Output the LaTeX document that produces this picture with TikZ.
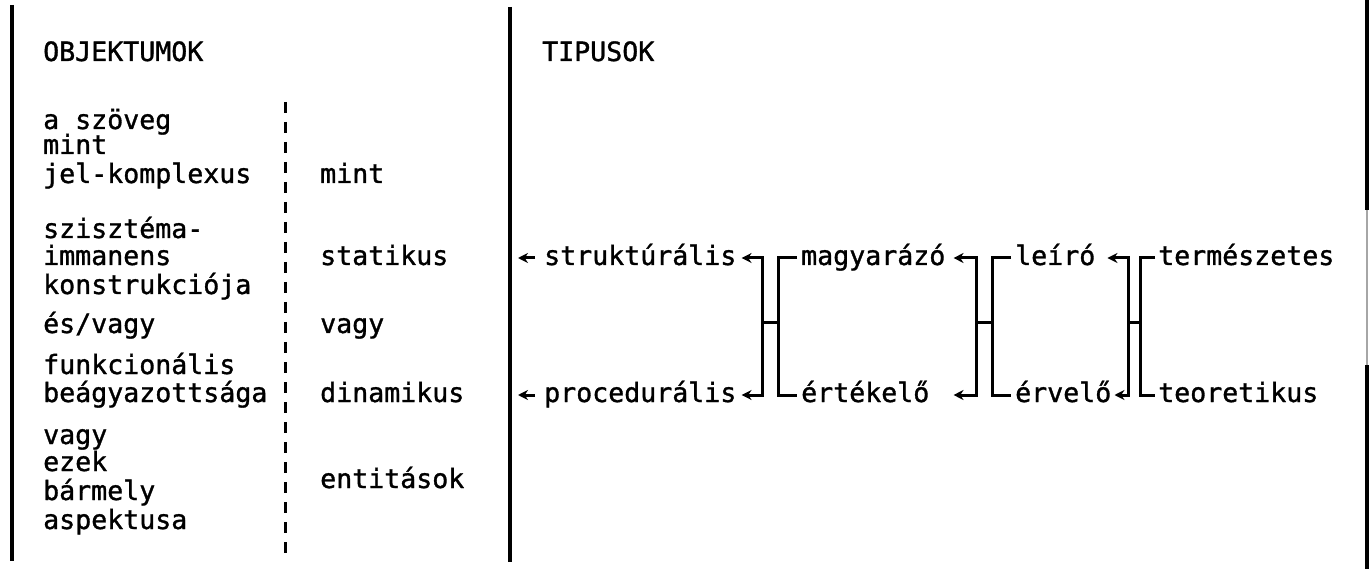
\documentclass[tikz,border=0pt]{standalone}
\usepackage{fontspec}
\newfontfamily\tw[FakeBold=1.2]{DejaVu Sans Mono}
\usetikzlibrary{arrows.meta,calc}
\begin{document}
\begin{tikzpicture}[x=1pt,y=-1pt,
  txt/.style={font=\tw\fontsize{26.6pt}{27.5pt}\selectfont, inner sep=0pt, anchor=base west},
  rule/.style={line width=3.4pt},
  brk/.style={line width=3pt},
  tipa/.style={-{Stealth[length=10pt,width=10pt]}},
  tipb/.style={{Stealth[length=10pt,width=10pt]}-{Stealth[length=10pt,width=10pt]}}]
\fill[white] (0,0) rectangle (1371,569);
\useasboundingbox (0,0) rectangle (1371,569);

% frame and column rules
\draw[rule] (12,5) -- (12,561);
\draw[rule] (510,7) -- (510,562);
\draw[rule] (1367,0) -- (1367,210);
\draw[line width=1.4pt, black!35] (1367,210) -- (1367,365);
\draw[rule] (1367,365) -- (1367,569);
\draw[line width=3pt, dash pattern=on 11pt off 9pt] (285,102) -- (285,557);

% headings
\node[txt] (hobj) at (43,61) {OBJEKTUMOK};
\node[txt] (htip) at (542,61) {TIPUSOK};

% first column
\node[txt] (l1) at (43,129) {a szöveg};
\node[txt] (l2) at (43,154) {mint};
\node[txt] (l3) at (43,183) {jel-komplexus};
\node[txt] (l4) at (43,238) {szisztéma-};
\node[txt] (l5) at (43,265) {immanens};
\node[txt] (l6) at (43,294) {konstrukciója};
\node[txt] (l7) at (43,333) {és/vagy};
\node[txt] (l8) at (43,374) {funkcionális};
\node[txt] (l9) at (43,402) {beágyazottsága};
\node[txt] (l10) at (43,444) {vagy};
\node[txt] (l11) at (43,471) {ezek};
\node[txt] (l12) at (43,500) {bármely};
\node[txt] (l13) at (43,529) {aspektusa};

% second column
\node[txt] (m1) at (320,183) {mint};
\node[txt] (m2) at (320,265) {statikus};
\node[txt] (m3) at (320,333) {vagy};
\node[txt] (m4) at (320,402) {dinamikus};
\node[txt] (m5) at (320,488) {entitások};

% types
\node[txt] (strukt) at (544,265) {struktúrális};
\node[txt] (proc)   at (544,402) {procedurális};
\node[txt] (magy)   at (801,265) {magyarázó};
\node[txt] (ertek)  at (801,402) {értékelő};
\node[txt] (leiro)  at (1015,265) {leíró};
\node[txt] (ervelo) at (1015,402) {érvelő};
\node[txt] (term)   at (1158,265) {természetes};
\node[txt] (teor)   at (1158,402) {teoretikus};

% free arrow ends next to the column rule
\coordinate (sa) at (518,258);
\coordinate (pa) at (518,395);
\draw[brk, tipa, shorten <=9pt] (strukt.west |- sa) -- (sa);
\draw[brk, tipa, shorten <=9pt] (proc.west |- pa) -- (pa);

% bracket joints: left bar, right bar
\coordinate (j1a) at (762,258); \coordinate (j1b) at (762,395);
\coordinate (k1a) at (778,258); \coordinate (k1b) at (778,395);
\coordinate (j2a) at (976,258); \coordinate (j2b) at (976,395);
\coordinate (k2a) at (992,258); \coordinate (k2b) at (992,395);
\coordinate (j3a) at (1128,258); \coordinate (j3b) at (1128,395);
\coordinate (k3a) at (1140,258); \coordinate (k3b) at (1140,395);

% struktúrális / procedurális  <-  magyarázó / értékelő
\draw[brk, tipb, shorten <=5pt, shorten >=5pt]
  (strukt.east |- j1a) -- (j1a) -- (j1b) -- (proc.east |- j1b);
\draw[brk] ($(j1a)!0.47!(j1b)$) -- ($(k1a)!0.47!(k1b)$);
\draw[brk, shorten <=4pt, shorten >=4pt]
  (magy.west |- k1a) -- (k1a) -- (k1b) -- (ertek.west |- k1b);

% magyarázó / értékelő  <-  leíró / érvelő
\draw[brk, tipb, shorten <=8pt, shorten >=24pt]
  (magy.east |- j2a) -- (j2a) -- (j2b) -- (ertek.east |- j2b);
\draw[brk] ($(j2a)!0.47!(j2b)$) -- ($(k2a)!0.47!(k2b)$);
\draw[brk, shorten <=4pt, shorten >=4pt]
  (leiro.west |- k2a) -- (k2a) -- (k2b) -- (ervelo.west |- k2b);

% leíró / érvelő  <-  természetes / teoretikus
\draw[brk, tipb, shorten <=12pt, shorten >=3pt]
  (leiro.east |- j3a) -- (j3a) -- (j3b) -- (ervelo.east |- j3b);
\draw[brk] ($(j3a)!0.47!(j3b)$) -- ($(k3a)!0.47!(k3b)$);
\draw[brk, shorten <=3pt, shorten >=3pt]
  (term.west |- k3a) -- (k3a) -- (k3b) -- (teor.west |- k3b);
\end{tikzpicture}
\end{document}
